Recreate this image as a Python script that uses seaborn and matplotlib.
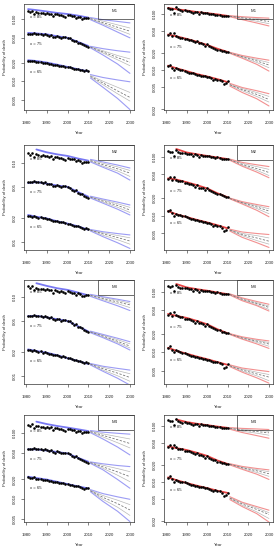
import matplotlib
matplotlib.use('Agg')
import matplotlib.pyplot as plt
import seaborn as sns
from matplotlib.patches import Rectangle
from matplotlib.ticker import FixedLocator, FixedFormatter, NullLocator

sns.set_style('white')
plt.rcParams['font.family'] = ['Liberation Sans', 'DejaVu Sans']

# ---------------- data ----------------
years_obs = list(range(1981, 2011))
fit_years = [1981, 1985, 1990, 1995, 2000, 2005, 2010]
fc_years = [2011, 2017, 2024, 2030]
ages = [85, 75, 65]
models = ['M1', 'M2', 'M3', 'M4']
x_ticks = [1980, 1990, 2000, 2010, 2020, 2030]

left_obs_85 = [0.135, 0.128, 0.136, 0.120, 0.130, 0.127, 0.125, 0.126, 0.122, 0.124,
               0.121, 0.123, 0.112, 0.120, 0.119, 0.116, 0.118, 0.114, 0.110, 0.117,
               0.115, 0.113, 0.112, 0.106, 0.110, 0.108, 0.101, 0.103, 0.104, 0.105]
left_obs_75 = [0.058, 0.057, 0.058, 0.059, 0.058, 0.057, 0.057, 0.056, 0.057, 0.055,
               0.054, 0.055, 0.052, 0.051, 0.053, 0.052, 0.050, 0.051, 0.051, 0.050,
               0.049, 0.046, 0.044, 0.045, 0.042, 0.041, 0.040, 0.038, 0.037, 0.036]
left_obs_65 = [0.0215, 0.0212, 0.0208, 0.0214, 0.0205, 0.0203, 0.0206, 0.0198, 0.0199, 0.0195,
               0.0192, 0.0190, 0.0186, 0.0183, 0.0185, 0.0178, 0.0176, 0.0177, 0.0172, 0.0170,
               0.0167, 0.0163, 0.0159, 0.0158, 0.0157, 0.0154, 0.0150, 0.0145, 0.0149, 0.0147]
right_obs_85 = [0.125, 0.120, 0.122, 0.104, 0.131, 0.121, 0.116, 0.114, 0.116, 0.113,
                0.112, 0.110, 0.104, 0.110, 0.108, 0.100, 0.106, 0.104, 0.102, 0.103,
                0.101, 0.099, 0.098, 0.095, 0.097, 0.095, 0.091, 0.093, 0.092, 0.093]
right_obs_75 = [0.042, 0.045, 0.040, 0.046, 0.041, 0.039, 0.038, 0.038, 0.036, 0.036,
                0.035, 0.034, 0.033, 0.031, 0.033, 0.030, 0.030, 0.029, 0.027, 0.029,
                0.027, 0.026, 0.025, 0.024, 0.023, 0.023, 0.022, 0.0215, 0.021, 0.0208]
right_obs_65 = [0.0118, 0.0125, 0.0110, 0.0100, 0.0108, 0.0104, 0.0101, 0.0099, 0.0097, 0.0094,
                0.0090, 0.0087, 0.0088, 0.0085, 0.0083, 0.0082, 0.0080, 0.0079, 0.0077, 0.0076,
                0.0075, 0.0072, 0.0068, 0.0070, 0.0068, 0.0067, 0.0063, 0.0056, 0.0058, 0.0064]

# fitted values (x=85 of cohort models starts in 1985)
L_M1_fit = {85: [0.145, 0.140, 0.133, 0.126, 0.121, 0.114, 0.106],
            75: [0.060, 0.059, 0.057, 0.053, 0.050, 0.043, 0.037],
            65: [0.0218, 0.0212, 0.0200, 0.0185, 0.0170, 0.0156, 0.0144]}
L_M2_fit = {85: [0.150, 0.138, 0.130, 0.124, 0.115, 0.108],
            75: [0.0560, 0.0575, 0.0550, 0.0520, 0.0500, 0.0430, 0.0375],
            65: [0.0219, 0.0208, 0.0198, 0.0182, 0.0170, 0.0157, 0.0142]}
L_M3_fit = {85: [0.148, 0.137, 0.128, 0.122, 0.113, 0.104],
            75: [0.0570, 0.0575, 0.0550, 0.0520, 0.0495, 0.0425, 0.0365],
            65: [0.0217, 0.0207, 0.0197, 0.0183, 0.0168, 0.0155, 0.0142]}
L_M4_fit = {85: [0.150, 0.138, 0.129, 0.122, 0.115, 0.108],
            75: [0.0572, 0.0570, 0.0548, 0.0520, 0.0495, 0.0425, 0.0371],
            65: [0.0220, 0.0210, 0.0199, 0.0184, 0.0170, 0.0157, 0.0146]}
R_M1_fit = {85: [0.128, 0.121, 0.115, 0.108, 0.103, 0.098, 0.092],
            75: [0.043, 0.040, 0.036, 0.032, 0.028, 0.024, 0.021],
            65: [0.0120, 0.0108, 0.0096, 0.0085, 0.0077, 0.0069, 0.0061]}
R_M2_fit = {85: [0.135, 0.118, 0.110, 0.103, 0.097, 0.091],
            75: [0.043, 0.041, 0.037, 0.033, 0.029, 0.024, 0.0205],
            65: [0.0120, 0.0106, 0.0095, 0.0085, 0.0077, 0.0069, 0.0061]}
R_M3_fit = {85: [0.134, 0.118, 0.110, 0.104, 0.097, 0.091],
            75: [0.043, 0.040, 0.037, 0.033, 0.029, 0.024, 0.0206],
            65: [0.0119, 0.0106, 0.0095, 0.0085, 0.0077, 0.0069, 0.0062]}
R_M4_fit = {85: [0.130, 0.117, 0.109, 0.103, 0.097, 0.092],
            75: [0.043, 0.040, 0.037, 0.033, 0.029, 0.024, 0.0208],
            65: [0.0120, 0.0107, 0.0095, 0.0085, 0.0077, 0.0069, 0.0063]}

# forecasts: median, 95% and 80% bounds at fc_years
L_M1_mid = {85: [0.102, 0.088, 0.074, 0.064], 75: [0.0355, 0.0297, 0.0241, 0.0202], 65: [0.0120, 0.0094, 0.0070, 0.0055]}
L_M1_hi95 = {85: [0.106, 0.098, 0.092, 0.087], 75: [0.0365, 0.0335, 0.0310, 0.0294], 65: [0.0128, 0.0115, 0.0105, 0.0098]}
L_M1_lo95 = {85: [0.098, 0.080, 0.062, 0.050], 75: [0.0345, 0.0265, 0.0190, 0.0134], 65: [0.0113, 0.0080, 0.0053, 0.0035]}
L_M1_hi80 = {85: [0.104, 0.093, 0.081, 0.072], 75: [0.0360, 0.0310, 0.0260, 0.0229], 65: [0.0124, 0.0100, 0.0080, 0.0066]}
L_M1_lo80 = {85: [0.100, 0.084, 0.068, 0.057], 75: [0.0350, 0.0285, 0.0222, 0.0178], 65: [0.0117, 0.0088, 0.0063, 0.0048]}

L_M2_mid = {85: [0.108, 0.096, 0.085, 0.075], 75: [0.0370, 0.0330, 0.0290, 0.0254], 65: [0.0140, 0.0126, 0.0113, 0.0102]}
L_M2_hi95 = {85: [0.112, 0.104, 0.095, 0.087], 75: [0.0380, 0.0350, 0.0320, 0.0294], 65: [0.0143, 0.0134, 0.0127, 0.0122]}
L_M2_lo95 = {85: [0.104, 0.089, 0.075, 0.061], 75: [0.0360, 0.0310, 0.0260, 0.0219], 65: [0.0137, 0.0116, 0.0097, 0.0082]}
L_M2_hi80 = {85: [0.110, 0.100, 0.090, 0.081], 75: [0.0375, 0.0340, 0.0305, 0.0274], 65: [0.0141, 0.0130, 0.0120, 0.0112]}
L_M2_lo80 = {85: [0.106, 0.092, 0.080, 0.068], 75: [0.0365, 0.0320, 0.0275, 0.0236], 65: [0.0139, 0.0121, 0.0106, 0.0093]}

L_M3_mid = {85: [0.104, 0.095, 0.086, 0.079], 75: [0.0360, 0.0320, 0.0275, 0.0239], 65: [0.0141, 0.0124, 0.0109, 0.0096]}
L_M3_hi95 = {85: [0.107, 0.100, 0.093, 0.087], 75: [0.0368, 0.0335, 0.0300, 0.0271], 65: [0.0144, 0.0133, 0.0125, 0.0119]}
L_M3_lo95 = {85: [0.101, 0.089, 0.077, 0.067], 75: [0.0352, 0.0305, 0.0255, 0.0213], 65: [0.0138, 0.0115, 0.0094, 0.0077]}
L_M3_hi80 = {85: [0.106, 0.098, 0.090, 0.083], 75: [0.0364, 0.0328, 0.0288, 0.0255], 65: [0.0142, 0.0129, 0.0117, 0.0107]}
L_M3_lo80 = {85: [0.102, 0.092, 0.082, 0.073], 75: [0.0356, 0.0312, 0.0265, 0.0226], 65: [0.0139, 0.0119, 0.0101, 0.0086]}

L_M4_mid = {85: [0.106, 0.093, 0.080, 0.070], 75: [0.0360, 0.0310, 0.0260, 0.0220], 65: [0.0135, 0.0107, 0.0086, 0.0069]}
L_M4_hi95 = {85: [0.110, 0.104, 0.100, 0.097], 75: [0.0368, 0.0345, 0.0325, 0.0313], 65: [0.0140, 0.0122, 0.0109, 0.0100]}
L_M4_lo95 = {85: [0.102, 0.082, 0.062, 0.047], 75: [0.0350, 0.0280, 0.0200, 0.0147], 65: [0.0130, 0.0093, 0.0066, 0.0046]}
L_M4_hi80 = {85: [0.108, 0.098, 0.089, 0.082], 75: [0.0364, 0.0328, 0.0292, 0.0262], 65: [0.0137, 0.0114, 0.0097, 0.0083]}
L_M4_lo80 = {85: [0.104, 0.088, 0.072, 0.060], 75: [0.0355, 0.0295, 0.0232, 0.0185], 65: [0.0133, 0.0100, 0.0076, 0.0057]}

R_M1_mid = {85: [0.091, 0.085, 0.079, 0.073], 75: [0.0203, 0.0173, 0.0146, 0.0123], 65: [0.0055, 0.0045, 0.0037, 0.0030]}
R_M1_hi95 = {85: [0.093, 0.089, 0.086, 0.084], 75: [0.0207, 0.0182, 0.0163, 0.0150], 65: [0.0058, 0.0049, 0.0043, 0.0038]}
R_M1_lo95 = {85: [0.089, 0.079, 0.069, 0.061], 75: [0.0199, 0.0163, 0.0127, 0.0096], 65: [0.0052, 0.0040, 0.0031, 0.0023]}
R_M1_hi80 = {85: [0.092, 0.087, 0.083, 0.078], 75: [0.0205, 0.0178, 0.0154, 0.0136], 65: [0.0056, 0.0047, 0.0040, 0.0034]}
R_M1_lo80 = {85: [0.090, 0.082, 0.074, 0.067], 75: [0.0201, 0.0168, 0.0137, 0.0110], 65: [0.0054, 0.0043, 0.0034, 0.0027]}

R_M2_mid = {85: [0.089, 0.074, 0.063, 0.054], 75: [0.0196, 0.0166, 0.0141, 0.0120], 65: [0.0057, 0.0048, 0.0042, 0.0037]}
R_M2_hi95 = {85: [0.091, 0.080, 0.073, 0.068], 75: [0.0199, 0.0173, 0.0155, 0.0142], 65: [0.0059, 0.0053, 0.0050, 0.0048]}
R_M2_lo95 = {85: [0.087, 0.069, 0.055, 0.044], 75: [0.0193, 0.0158, 0.0124, 0.0096], 65: [0.0055, 0.0043, 0.0035, 0.0029]}
R_M2_hi80 = {85: [0.090, 0.077, 0.068, 0.061], 75: [0.0197, 0.0170, 0.0148, 0.0131], 65: [0.0058, 0.0050, 0.0046, 0.0042]}
R_M2_lo80 = {85: [0.088, 0.071, 0.059, 0.048], 75: [0.0195, 0.0162, 0.0133, 0.0108], 65: [0.0056, 0.0046, 0.0038, 0.0033]}

R_M3_mid = {85: [0.090, 0.075, 0.064, 0.055], 75: [0.0200, 0.0172, 0.0153, 0.0137], 65: [0.0060, 0.0051, 0.0044, 0.0039]}
R_M3_hi95 = {85: [0.092, 0.079, 0.069, 0.062], 75: [0.0203, 0.0180, 0.0164, 0.0154], 65: [0.0062, 0.0055, 0.0051, 0.0048]}
R_M3_lo95 = {85: [0.088, 0.071, 0.059, 0.048], 75: [0.0197, 0.0165, 0.0138, 0.0116], 65: [0.0058, 0.0047, 0.0038, 0.0031]}
R_M3_hi80 = {85: [0.091, 0.077, 0.066, 0.058], 75: [0.0202, 0.0176, 0.0158, 0.0145], 65: [0.0061, 0.0053, 0.0047, 0.0043]}
R_M3_lo80 = {85: [0.089, 0.073, 0.061, 0.051], 75: [0.0198, 0.0168, 0.0146, 0.0126], 65: [0.0059, 0.0049, 0.0041, 0.0034]}

R_M4_mid = {85: [0.090, 0.084, 0.079, 0.075], 75: [0.0205, 0.0178, 0.0157, 0.0139], 65: [0.0051, 0.0040, 0.0032, 0.0026]}
R_M4_hi95 = {85: [0.093, 0.090, 0.088, 0.086], 75: [0.0210, 0.0188, 0.0173, 0.0163], 65: [0.0054, 0.0043, 0.0036, 0.0031]}
R_M4_lo95 = {85: [0.087, 0.076, 0.067, 0.060], 75: [0.0200, 0.0167, 0.0137, 0.0110], 65: [0.0048, 0.0036, 0.0027, 0.0019]}
R_M4_hi80 = {85: [0.092, 0.087, 0.083, 0.080], 75: [0.0207, 0.0183, 0.0165, 0.0151], 65: [0.0052, 0.0042, 0.0034, 0.0028]}
R_M4_lo80 = {85: [0.088, 0.080, 0.074, 0.068], 75: [0.0202, 0.0172, 0.0147, 0.0125], 65: [0.0050, 0.0038, 0.0029, 0.0022]}

ticks_3dec_5 = [0.1, 0.05, 0.02, 0.01, 0.005]
labels_3dec_5 = ['0.100', '0.050', '0.020', '0.010', '0.005']
ticks_2dec_4 = [0.1, 0.05, 0.02, 0.01]
labels_2dec_4 = ['0.10', '0.05', '0.02', '0.01']
ticks_3dec_6 = [0.1, 0.05, 0.02, 0.01, 0.005, 0.002]
labels_3dec_6 = ['0.100', '0.050', '0.020', '0.010', '0.005', '0.002']

# ---------------- layout ----------------
W, H = 279, 550
fig = plt.figure(figsize=(W / 100, H / 100), dpi=100)
row_px = [(4, 110), (145, 250), (280, 384), (415, 522)]
col_px = [(24, 134), (164, 273)]
ylims_left = [(10 ** -2.463, 10 ** -0.756), (10 ** -2.106, 10 ** -0.767),
              (10 ** -2.10, 10 ** -0.789), (10 ** -2.344, 10 ** -0.723)]
ylims_right = [(10 ** -2.71, 10 ** -0.824), (10 ** -2.581, 10 ** -0.802),
               (10 ** -2.523, 10 ** -0.807), (10 ** -2.72, 10 ** -0.806)]
yt_left = [(ticks_3dec_5, labels_3dec_5), (ticks_2dec_4, labels_2dec_4),
           (ticks_2dec_4, labels_2dec_4), (ticks_3dec_5, labels_3dec_5)]
yt_right = [(ticks_3dec_6, labels_3dec_6), (ticks_3dec_5, labels_3dec_5),
            (ticks_3dec_5, labels_3dec_5), (ticks_3dec_6, labels_3dec_6)]

FS = 3.1
left_sets = [(L_M1_fit, L_M1_mid, L_M1_lo95, L_M1_hi95, L_M1_lo80, L_M1_hi80),
             (L_M2_fit, L_M2_mid, L_M2_lo95, L_M2_hi95, L_M2_lo80, L_M2_hi80),
             (L_M3_fit, L_M3_mid, L_M3_lo95, L_M3_hi95, L_M3_lo80, L_M3_hi80),
             (L_M4_fit, L_M4_mid, L_M4_lo95, L_M4_hi95, L_M4_lo80, L_M4_hi80)]
right_sets = [(R_M1_fit, R_M1_mid, R_M1_lo95, R_M1_hi95, R_M1_lo80, R_M1_hi80),
              (R_M2_fit, R_M2_mid, R_M2_lo95, R_M2_hi95, R_M2_lo80, R_M2_hi80),
              (R_M3_fit, R_M3_mid, R_M3_lo95, R_M3_hi95, R_M3_lo80, R_M3_hi80),
              (R_M4_fit, R_M4_mid, R_M4_lo95, R_M4_hi95, R_M4_lo80, R_M4_hi80)]
left_obs = {85: left_obs_85, 75: left_obs_75, 65: left_obs_65}
right_obs = {85: right_obs_85, 75: right_obs_75, 65: right_obs_65}


def draw_panel(ax, obs, sets, fit_col, band_col, yt, ylim, model, lab_off):
    fit, mid, lo95, hi95, lo80, hi80 = sets
    ax.set_yscale('log')
    for age in ages:
        f = fit[age]
        sns.lineplot(x=fit_years[-len(f):], y=f, ax=ax, color=fit_col, lw=1.3, zorder=2)
        for d, col, ls, lw in [(lo80, '#b8b8b8', '-', 0.5), (hi80, '#b8b8b8', '-', 0.5),
                               (lo95, band_col, '-', 0.8), (hi95, band_col, '-', 0.8),
                               (mid, '#6e6e6e', (0, (3, 2)), 0.55)]:
            sns.lineplot(x=fc_years, y=d[age], ax=ax, color=col, lw=lw, linestyle=ls, zorder=2)
        sns.scatterplot(x=years_obs, y=obs[age], ax=ax, color='black', s=3.5,
                        linewidth=0, zorder=3)
        ax.annotate(f'x = {age}', xy=(1982, obs[age][0]), xytext=(0, lab_off[age]),
                    textcoords='offset pixels', ha='left', va='center', fontsize=FS,
                    color='#222222')
    ax.set_xlim(1979.04, 2031.96)
    ax.set_ylim(*ylim)
    ax.xaxis.set_major_locator(FixedLocator(x_ticks))
    ax.xaxis.set_major_formatter(FixedFormatter([str(t) for t in x_ticks]))
    ax.yaxis.set_major_locator(FixedLocator(yt[0]))
    ax.yaxis.set_major_formatter(FixedFormatter(yt[1]))
    ax.yaxis.set_minor_locator(NullLocator())
    ax.tick_params(axis='both', which='major', direction='out', length=2.0, width=0.4,
                   labelsize=FS, colors='#222222', bottom=True, left=True)
    ax.tick_params(axis='x', pad=6.0)
    ax.tick_params(axis='y', pad=3.0, labelrotation=90)
    for lab in ax.get_yticklabels():
        lab.set_va('center')
    for s in ax.spines.values():
        s.set_visible(True)
        s.set_linewidth(0.5)
        s.set_color('#333333')
    ax.set_xlabel('Year', fontsize=FS, va='center')
    ax.set_ylabel('Probability of death', fontsize=FS, va='center')
    ax.add_patch(Rectangle((0.67, 0.86), 0.33, 0.14, transform=ax.transAxes, fill=False,
                           lw=0.5, edgecolor='#333333', zorder=5))
    ax.text(0.82, 0.93, model, transform=ax.transAxes, ha='center', va='center',
            fontsize=FS, color='#222222', zorder=6)


for r in range(4):
    top, bot = row_px[r]
    for c in range(2):
        x0, x1 = col_px[c]
        ax = fig.add_axes([x0 / W, 1 - bot / H, (x1 - x0) / W, (bot - top) / H])
        hpx = bot - top
        wpx = x1 - x0
        if c == 0:
            draw_panel(ax, left_obs, left_sets[r], '#7878f2', '#9c9cf4', yt_left[r],
                       ylims_left[r], models[r], {85: -6, 75: -10, 65: -11})
        else:
            draw_panel(ax, right_obs, right_sets[r], '#e84444', '#f29090', yt_right[r],
                       ylims_right[r], models[r], {85: -7, 75: -12, 65: -12})
        ax.xaxis.set_label_coords(0.5, -23 / hpx)
        ax.yaxis.set_label_coords(-19 / wpx, 0.5)

fig.savefig('out.png', dpi=100)
